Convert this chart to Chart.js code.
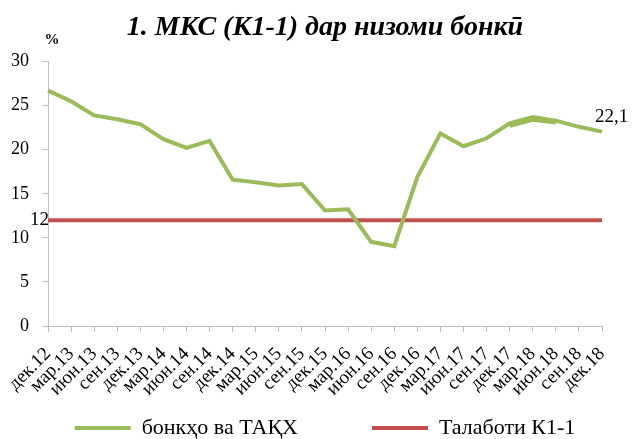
<!DOCTYPE html>
<html>
<head>
<meta charset="utf-8">
<script src="https://cdn.jsdelivr.net/npm/chart.js@4.4.1/dist/chart.umd.min.js"></script>
<style>
  html, body { margin: 0; padding: 0; background: #fff; }
</style>
</head>
<body>
<canvas id="chart" width="634" height="439"></canvas>
<script>
// Данные графика
const categories = ['дек.12', 'мар.13', 'июн.13', 'сен.13', 'дек.13', 'мар.14', 'июн.14', 'сен.14',
  'дек.14', 'мар.15', 'июн.15', 'сен.15', 'дек.15', 'мар.16', 'июн.16', 'сен.16', 'дек.16',
  'мар.17', 'июн.17', 'сен.17', 'дек.17', 'мар.18', 'июн.18', 'сен.18', 'дек.18'];
const banks = [26.7, 25.5, 23.9, 23.45, 22.9, 21.2, 20.2, 21.0, 16.6, 16.3, 15.95, 16.1, 13.1,
  13.25, 9.55, 9.05, 16.9, 21.85, 20.4, 21.3, 23.0, 23.7, 23.3, 22.6, 22.05];
// второй (почти совпадающий) отрезок той же линии
const banksOverlap = [null, null, null, null, null, null, null, null, null, null, null, null, null,
  null, null, null, null, null, null, null, 22.7, 23.4, 23.1, null, null];
const requirement = [12, 12, 12, 12, 12, 12, 12, 12, 12, 12, 12, 12, 12, 12, 12, 12, 12, 12, 12,
  12, 12, 12, 12, 12, 12];
const yTicks = [0, 5, 10, 15, 20, 25, 30];
const seriesNames = ['бонкҳо ва ТАҚХ', 'Талаботи К1-1'];

const serif = "'Liberation Serif', 'Times New Roman', serif";
const axisColor = '#bfbfbf';

// подписи "12" в начале и "22,1" в конце
const endLabels = {
  id: 'endLabels',
  afterDatasetsDraw(chart) {
    const ctx = chart.ctx;
    const x = chart.scales.x, y = chart.scales.y;
    ctx.save();
    ctx.fillStyle = '#000';
    ctx.font = '19px ' + serif;
    ctx.textBaseline = 'middle';
    ctx.textAlign = 'right';
    ctx.fillText(String(requirement[0]), x.getPixelForValue(0) + 1, y.getPixelForValue(requirement[0]));
    const last = banks.length - 1;
    ctx.textAlign = 'left';
    ctx.fillText(String(banks[last].toFixed(1)).replace('.', ','),
      x.getPixelForValue(last) - 7, y.getPixelForValue(banks[last]) - 15);
    // единица измерения над осью
    ctx.font = 'bold 15px ' + serif;
    ctx.textAlign = 'center';
    ctx.fillText('%', x.left + 4, 40);
    ctx.restore();
  }
};

const ctx = document.getElementById('chart').getContext('2d');
new Chart(ctx, {
  type: 'line',
  data: {
    labels: categories,
    datasets: [{
      label: seriesNames[0],
      data: banks,
      borderColor: '#9bbb59',
      backgroundColor: '#9bbb59',
      borderWidth: 4,
      pointRadius: 0,
      tension: 0
    }, {
      label: 'overlap',
      data: banksOverlap,
      borderColor: '#9bbb59',
      backgroundColor: '#9bbb59',
      borderWidth: 4,
      pointRadius: 0,
      tension: 0,
      spanGaps: false
    }, {
      label: seriesNames[1],
      data: requirement,
      borderColor: '#c0504d',
      backgroundColor: '#c0504d',
      borderWidth: 4,
      pointRadius: 0,
      tension: 0
    }]
  },
  options: {
    responsive: false,
    animation: false,
    layout: { padding: { left: 0, right: 32, top: 0, bottom: -10 } },
    plugins: {
      title: {
        display: true,
        text: '1. МКС (К1-1) дар низоми бонкӣ',
        color: '#000',
        fullSize: false,
        font: { family: serif, size: 28, weight: 'bold', style: 'italic', lineHeight: 1.2 },
        padding: { top: 11, bottom: 17 }
      },
      legend: {
        position: 'bottom',
        fullSize: false,
        labels: {
          color: '#000',
          font: { family: serif, size: 22 },
          boxWidth: 56,
          boxHeight: 4,
          padding: 8,
          filter: (item) => item.datasetIndex !== 1,
          generateLabels: (chart) => {
            const items = Chart.defaults.plugins.legend.labels.generateLabels(chart);
            items.forEach(it => {
              it.lineWidth = 0;
              if (it.datasetIndex === 0) it.text = it.text + '\u2003\u2003\u2003';
            });
            return items;
          }
        }
      },
      tooltip: { enabled: false }
    },
    scales: {
      x: {
        offset: false,
        afterFit: (s) => { s.height = 83; },
        grid: { display: true, drawOnChartArea: false, drawTicks: true, tickLength: 6, color: axisColor },
        border: { color: axisColor, width: 1 },
        ticks: {
          color: '#000',
          font: { family: serif, size: 19 },
          autoSkip: false,
          minRotation: 45,
          maxRotation: 45,
          padding: 11
        }
      },
      y: {
        min: yTicks[0],
        max: yTicks[yTicks.length - 1],
        afterFit: (s) => { s.width = 48; },
        afterBuildTicks: (s) => { s.ticks = yTicks.map(v => ({ value: v })); },
        grid: { display: true, drawOnChartArea: false, drawTicks: true, tickLength: 6, color: axisColor },
        border: { color: axisColor, width: 1 },
        ticks: {
          color: '#000',
          font: { family: serif, size: 18 },
          padding: 13
        }
      }
    }
  },
  plugins: [endLabels]
});
</script>
</body>
</html>
